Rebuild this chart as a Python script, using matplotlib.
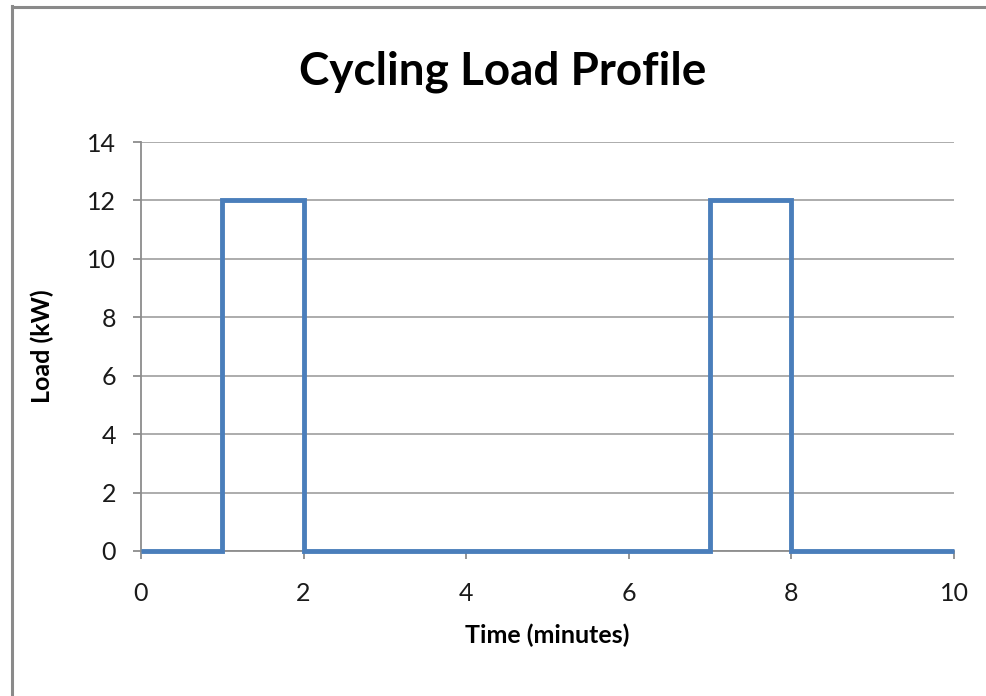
import matplotlib.pyplot as plt
from matplotlib.lines import Line2D

# step profile: load switches on 1-2 min and 7-8 min
time_min = [0, 1, 1, 2, 2, 7, 7, 8, 8, 10]
load_kw = [0, 0, 12, 12, 0, 0, 12, 12, 0, 0]
x_ticks = [0, 2, 4, 6, 8, 10]
y_ticks = [0, 2, 4, 6, 8, 10, 12, 14]

plt.rcParams['font.family'] = ['Lato', 'DejaVu Sans']

fig = plt.figure(figsize=(9.87, 6.96), dpi=100)
ax = fig.add_axes([141/987, 1 - 551/696, (954 - 141)/987, (551 - 142)/696])

ax.plot(time_min, load_kw, color='#4A7EBB', linewidth=3.5, solid_joinstyle='miter',
        solid_capstyle='butt', clip_on=False, zorder=3)

ax.set_xlim(0, 10)
ax.set_ylim(0, 14)
ax.set_xticks(x_ticks)
ax.set_yticks(y_ticks)
ax.grid(axis='y', color='#A6A6A6', linewidth=1.3)
ax.set_axisbelow(True)

for s in ['top', 'right']:
    ax.spines[s].set_visible(False)
for s in ['left', 'bottom']:
    ax.spines[s].set_color('#8C8C8C')
    ax.spines[s].set_linewidth(1.3)

ax.tick_params(axis='both', direction='out', length=6, width=1.3, color='#8C8C8C', labelsize=18, labelcolor='#1a1a1a')
ax.tick_params(axis='x', pad=16)
ax.tick_params(axis='y', pad=12)

ax.set_xlabel('Time (minutes)', fontsize=18, fontweight='bold', labelpad=14)
ax.set_ylabel('Load (kW)', fontsize=18, fontweight='bold', labelpad=24)
fig.text(503/987, 1 - 72/696, 'Cycling Load Profile', ha='center', va='center', fontsize=33, fontweight='bold')

# chart border (Excel style, only top/left visible)
fig.add_artist(Line2D([12/987, 12/987], [0, 1 - 6/696], color='#8A8A8A', linewidth=2.2))
fig.add_artist(Line2D([12/987, 1], [1 - 7/696, 1 - 7/696], color='#8A8A8A', linewidth=2.2))

fig.savefig('out.png', dpi=100)
